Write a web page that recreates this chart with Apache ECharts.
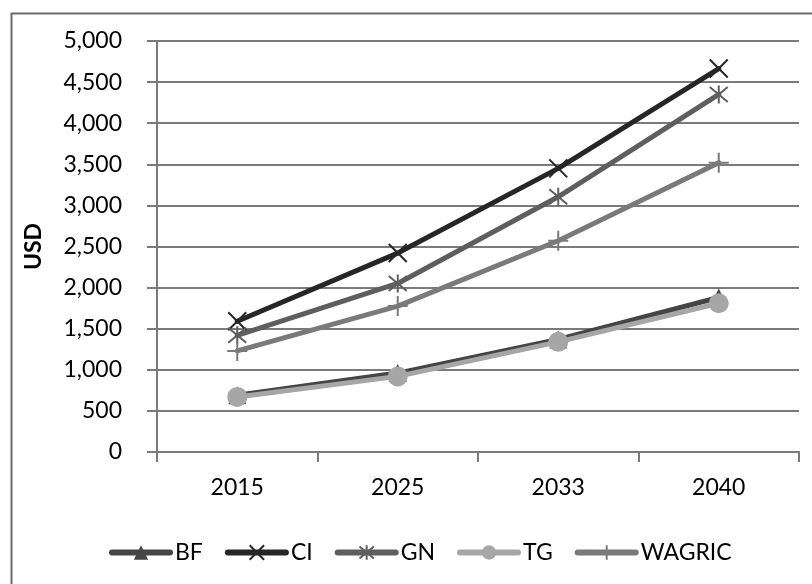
<!DOCTYPE html>
<html>
<head>
<meta charset="utf-8">
<script src="https://cdn.jsdelivr.net/npm/echarts@6/dist/echarts.min.js"></script>
<style>
html,body{margin:0;padding:0;background:#fff;}
#c{width:812px;height:584px;}
</style>
</head>
<body>
<div id="c"></div>
<script>
const categories = ['2015', '2025', '2033', '2040'];
const BF = [690, 960, 1370, 1880];
const CI = [1590, 2420, 3450, 4665];
const GN = [1420, 2050, 3105, 4350];
const TG = [670, 920, 1340, 1810];
const WAGRIC = [1230, 1775, 2570, 3520];
const yTicks = { min: 0, max: 5000, interval: 500 };

const FONT = 'Lato';
const sym = {
  tri: 'triangle',
  cross: 'path://M0,0L10,10M10,0L0,10',
  star: 'path://M0,0L10,10M10,0L0,10M5,-1L5,11',
  circle: 'circle',
  plus: 'path://M5,0L5,10M0,5L10,5'
};
function mk(name, data, color, symbol, size, stroke) {
  return {
    name: name, type: 'line', data: data,
    symbol: symbol, symbolSize: size,
    showAllSymbol: true,
    lineStyle: { color: color, width: 5, cap: 'round', join: 'round' },
    itemStyle: stroke ? { color: color, borderColor: color, borderWidth: 2 } : { color: color, borderWidth: 0 },
    emphasis: { disabled: true },
    animation: false
  };
}
const chart = echarts.init(document.getElementById('c'), null, { renderer: 'canvas' });
chart.setOption({
  backgroundColor: '#fff',
  animation: false,
  textStyle: { fontFamily: FONT },
  graphic: [{
    type: 'rect', left: 9, top: 11, z: -1, silent: true,
    shape: { width: 900, height: 700 },
    style: { fill: 'none', stroke: '#6a6a6a', lineWidth: 2 }
  }],
  grid: { left: 157, right: 13, top: 41, bottom: 132, containLabel: false },
  xAxis: {
    type: 'category', data: categories, boundaryGap: true,
    axisLine: { show: true, lineStyle: { color: '#7a7a7a', width: 2 } },
    axisTick: { show: true, length: 10, alignWithLabel: false, lineStyle: { color: '#7a7a7a', width: 2 } },
    axisLabel: { color: '#000', fontFamily: FONT, fontSize: 23, margin: 24 },
    splitLine: { show: false }
  },
  yAxis: {
    type: 'value', min: yTicks.min, max: yTicks.max, interval: yTicks.interval,
    name: 'USD', nameLocation: 'middle', nameGap: 112, nameRotate: 90,
    nameTextStyle: { color: '#000', fontFamily: FONT, fontSize: 23, fontWeight: 'bold' },
    axisLine: { show: true, lineStyle: { color: '#7a7a7a', width: 2 } },
    axisTick: { show: true, length: 10, lineStyle: { color: '#7a7a7a', width: 2 } },
    axisLabel: { color: '#000', fontFamily: FONT, fontSize: 23, margin: 35,
      formatter: v => v.toLocaleString('en-US') },
    splitLine: { show: true, lineStyle: { color: '#7a7a7a', width: 2 } }
  },
  legend: {
    left: 104, top: 536, itemWidth: 58, itemHeight: 18, itemGap: 22,
    lineStyle: { width: 6, cap: 'round' },
    textStyle: { color: '#000', fontFamily: FONT, fontSize: 23 },
    data: ['BF', 'CI', 'GN', 'TG', 'WAGRIC']
  },
  series: [
    mk('BF', BF, '#454545', sym.tri, 18, false),
    mk('CI', CI, '#262626', sym.cross, 18, true),
    mk('GN', GN, '#5e5e5e', sym.star, 18, true),
    mk('TG', TG, '#a6a6a6', sym.circle, 20, false),
    mk('WAGRIC', WAGRIC, '#7a7a7a', sym.plus, 20, true)
  ]
});
</script>
</body>
</html>
